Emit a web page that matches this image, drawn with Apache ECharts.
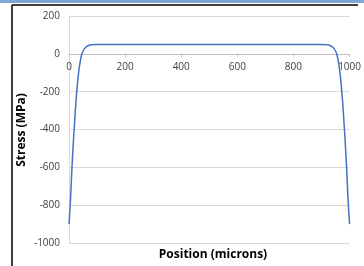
<!DOCTYPE html>
<html><head><meta charset="utf-8">
<script src="https://cdn.jsdelivr.net/npm/echarts@6/dist/echarts.min.js"></script>
<style>html,body{margin:0;padding:0;background:#fff}#c{width:364px;height:266px}</style>
</head><body><div id="c"></div>
<script>
const positions = [0,5,10,15,20,25,30,35,40,45,50,60,70,80,100,300,500,700,900,920,930,940,950,955,960,965,970,975,980,985,990,995,1000];
const stress = [-900,-780,-620,-480,-360,-250,-160,-90,-40,-5,15,35,44,48,50,50,50,50,50,48,44,35,15,-5,-40,-90,-160,-250,-360,-480,-620,-780,-900];
const xTicks = [0,200,400,600,800,1000];
const yTicks = [-1000,-800,-600,-400,-200,0,200];
const xTitle = 'Position (microns)';
const yTitle = 'Stress (MPa)';

const chart = echarts.init(document.getElementById('c'));
const font = 'Open Sans';
const gridTop = 16;
function build(offset){
  return {
  animation:false,
  grid:{left:69,right:7,top:gridTop,bottom:23},
  xAxis:[{type:'value',min:xTicks[0],max:xTicks[xTicks.length-1],interval:xTicks[1]-xTicks[0],
    axisLine:{show:true,onZero:true,lineStyle:{color:'#bfbfbf'}},
    axisTick:{show:true,length:3,lineStyle:{color:'#bfbfbf'}},
    splitLine:{show:false},
    axisLabel:{show:false}},
   {type:'value',position:'top',offset:offset,min:xTicks[0],max:xTicks[xTicks.length-1],interval:xTicks[1]-xTicks[0],
    axisLine:{show:false},axisTick:{show:false},splitLine:{show:false},
    axisLabel:{inside:true,color:'#404040',fontSize:10,fontFamily:font,margin:8,formatter:v=>String(v)}}],
  yAxis:{type:'value',min:yTicks[0],max:yTicks[yTicks.length-1],interval:yTicks[1]-yTicks[0],
    axisLine:{show:true,onZero:false,lineStyle:{color:'#d9d9d9'}},
    axisTick:{show:false},
    splitLine:{lineStyle:{color:'#d9d9d9'}},
    axisLabel:{color:'#404040',fontSize:10,fontFamily:font,margin:9,formatter:v=>String(v)}},
  series:[{type:'line',data:positions.map((p,i)=>[p,stress[i]]),smooth:0.3,symbol:'none',
    lineStyle:{color:'#4472c4',width:1.5}}],
  graphic:[
    {type:'rect',shape:{x:0,y:0,width:364,height:3},style:{fill:'#7ea6d6'}},
    {type:'line',shape:{x1:12,y1:5,x2:358,y2:5},style:{stroke:'#000',lineWidth:1.5}},
    {type:'line',shape:{x1:12,y1:5,x2:12,y2:266},style:{stroke:'#000',lineWidth:1.5}},
    {type:'text',x:213,y:255,style:{text:xTitle,font:'bold 12px '+font,fill:'#000',textAlign:'center',textVerticalAlign:'middle'}},
    {type:'text',x:22,y:130,rotation:Math.PI/2,style:{text:yTitle,font:'bold 12px '+font,fill:'#000',textAlign:'center',textVerticalAlign:'middle'}}
  ]};
}
chart.setOption(build(0));
const y0 = chart.convertToPixel({yAxisIndex:0}, 0);
chart.setOption(build(-(y0 - gridTop)));
</script></body></html>
